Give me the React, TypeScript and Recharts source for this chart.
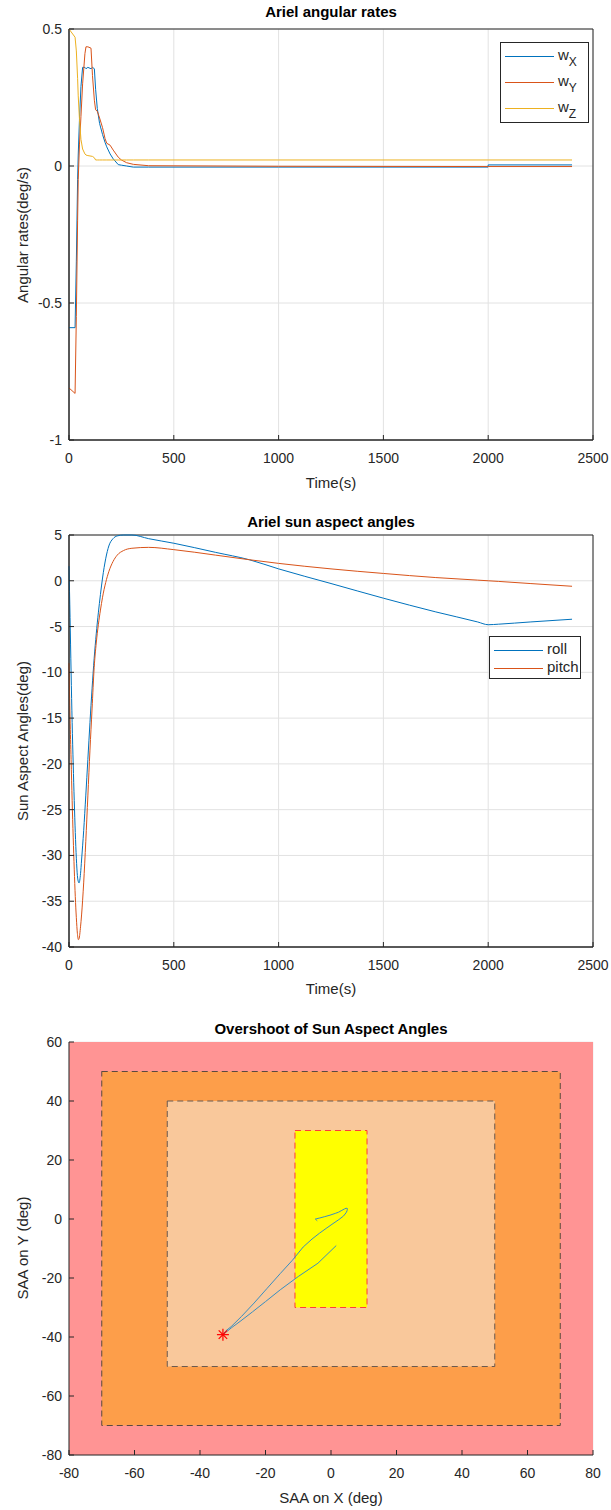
import React from "react";
import {
  LineChart, Line, ComposedChart, Scatter,
  XAxis, YAxis, CartesianGrid, ReferenceArea,
} from "recharts";

const FONT = '"Liberation Sans", Arial, Helvetica, sans-serif';
const AX = "#262626";
const GRID = "#e2e2e2";
const BLUE = "#0072BD";
const ORANGE = "#D95319";
const YELLOW = "#EDB120";

// ─── Angular rates ───────────────────────────────────────────────────────────

const RATE_T = [0, 29, 35, 41, 44, 50, 57, 65, 76, 81, 90, 105, 112, 121, 127, 135, 146, 160, 172, 180, 196, 211, 235, 250, 275, 307, 380, 1000, 1999, 2000, 2400];
const W_X = [-0.59, -0.59, -0.35, -0.05, 0.04, 0.17, 0.29, 0.36, 0.36, 0.355, 0.36, 0.355, 0.36, 0.355, 0.28, 0.21, 0.155, 0.115, 0.086, 0.07, 0.044, 0.026, 0.005, 0.003, 0.0, -0.004, -0.004, -0.004, -0.004, 0.004, 0.004];
const W_Y = [-0.81, -0.83, -0.55, -0.2, -0.05, 0.08, 0.18, 0.3, 0.41, 0.435, 0.435, 0.43, 0.33, 0.24, 0.205, 0.2, 0.175, 0.14, 0.1, 0.083, 0.076, 0.058, 0.032, 0.022, 0.012, 0.006, 0.001, -0.001, -0.002, -0.002, -0.002];
const W_Z = [0.5, 0.47, 0.42, 0.32, 0.256, 0.17, 0.097, 0.062, 0.044, 0.04, 0.038, 0.036, 0.035, 0.03, 0.022, 0.022, 0.022, 0.022, 0.022, 0.022, 0.022, 0.022, 0.022, 0.022, 0.022, 0.022, 0.022, 0.022, 0.022, 0.022, 0.022];
const TIME_TICKS = [0, 500, 1000, 1500, 2000, 2500];
const RATE_TICKS = [-1, -0.5, 0, 0.5];

// ─── Sun aspect angles ───────────────────────────────────────────────────────

const SAA_T = [0, 5, 10, 15, 20, 25, 30, 35, 40, 45, 48, 55, 60, 70, 80, 90, 100, 110, 120, 130, 140, 150, 160, 175, 190, 210, 230, 260, 300, 380, 500, 700, 860, 1000, 1250, 1500, 1750, 1950, 2000, 2050, 2200, 2400];
const ROLL = [1.6, -4, -10, -15.5, -20, -24, -27.5, -30.3, -32.2, -32.9, -33, -32, -30.5, -27.3, -23.5, -19.5, -15.5, -11.8, -8.5, -5.8, -3.5, -1.5, 0.3, 2.4, 3.8, 4.6, 4.9, 5.0, 5.0, 4.6, 4.1, 3.1, 2.3, 1.3, -0.3, -1.9, -3.4, -4.5, -4.8, -4.74, -4.5, -4.2];
const PITCH = [-9, -15, -19.5, -24, -28, -31.5, -34.5, -36.8, -38.5, -39.2, -39.1, -37.8, -36.5, -33, -28.5, -23.5, -18.5, -14.0, -9.5, -6.8, -4.8, -3.2, -1.8, -0.2, 1.0, 2.1, 2.8, 3.3, 3.55, 3.65, 3.4, 2.8, 2.3, 1.9, 1.3, 0.8, 0.35, 0.07, 0.0, -0.07, -0.3, -0.6];
const SAA_TICKS = [-40, -35, -30, -25, -20, -15, -10, -5, 0, 5];

// ─── Overshoot zones ─────────────────────────────────────────────────────────

const OUTER_ZONE = [-70, 70, -70, 50];
const MID_ZONE = [-50, 50, -50, 40];
const SAFE_ZONE = [-11, 11, -30, 30];
const WORST_POINT = [{ x: -33, y: -39.2 }];
const XY_TICKS_X = [-80, -60, -40, -20, 0, 20, 40, 60, 80];
const XY_TICKS_Y = [-80, -60, -40, -20, 0, 20, 40, 60];

const rateData = RATE_T.map((t, i) => ({ t, wx: W_X[i], wy: W_Y[i], wz: W_Z[i] }));
const saaData = SAA_T.map((t, i) => ({ t, roll: ROLL[i], pitch: PITCH[i] }));
const pathData = ROLL.map((r, i) => ({ x: r, y: PITCH[i] }));

const tickStyle = { fill: AX, fontSize: 14, fontFamily: FONT };

function Txt({ x, y, children, bold = false, rotate = false, size = 15 }: any) {
  return (
    <div
      style={{
        position: "absolute", left: x, top: y, whiteSpace: "nowrap",
        transform: `translate(-50%, -50%)${rotate ? " rotate(-90deg)" : ""}`,
        fontFamily: FONT, fontSize: size, fontWeight: bold ? 700 : 400, color: bold ? "#000" : AX,
        lineHeight: 1,
      }}
    >
      {children}
    </div>
  );
}

function LegendRow({ y, color, children }: any) {
  return (
    <div style={{ position: "absolute", left: 0, top: y, height: 1, width: "100%" }}>
      <div style={{ position: "absolute", left: 4, top: 0, width: 49, height: 0, borderTop: `1px solid ${color}` }} />
      <div style={{ position: "absolute", left: 57, top: -9, fontFamily: FONT, fontSize: 15, color: AX, lineHeight: 1, whiteSpace: "nowrap" }}>
        {children}
      </div>
    </div>
  );
}

function Star({ cx, cy }: any) {
  const r = 6;
  const arms = [0, 45, 90, 135].map((a) => {
    const rad = (a * Math.PI) / 180;
    const dx = Math.cos(rad) * r, dy = Math.sin(rad) * r;
    return <line key={a} x1={cx - dx} y1={cy - dy} x2={cx + dx} y2={cy + dy} stroke="#ff0000" strokeWidth={1.2} />;
  });
  return <g>{arms}</g>;
}

const sub = (s: string) => (
  <span>w<span style={{ fontSize: 12, position: "relative", top: 6 }}>{s}</span></span>
);

export default function App() {
  return (
    <div style={{ position: "absolute", left: 0, top: 0, width: 611, height: 1510, background: "#fff", fontFamily: FONT }}>
      {/* Angular rates */}
      <div style={{ position: "absolute", left: 0, top: 0 }}>
        <LineChart width={611} height={500} data={rateData} margin={{ top: 29, right: 18, bottom: 0, left: 0 }}>
          <CartesianGrid stroke={GRID} />
          <XAxis dataKey="t" type="number" domain={[0, 2500]} ticks={TIME_TICKS} height={60}
            tickSize={-5} tickMargin={18} tick={tickStyle} stroke={AX} />
          <YAxis type="number" domain={[-1, 0.5]} ticks={RATE_TICKS} width={69}
            tickSize={-5} tickMargin={12} tick={tickStyle} stroke={AX} />
          <ReferenceArea x1={0} x2={2500} y1={-1} y2={0.5} fill="none" stroke={AX} strokeWidth={1} />
          <Line type="linear" dataKey="wx" stroke={BLUE} strokeWidth={1} dot={false} isAnimationActive={false} />
          <Line type="linear" dataKey="wy" stroke={ORANGE} strokeWidth={1} dot={false} isAnimationActive={false} />
          <Line type="linear" dataKey="wz" stroke={YELLOW} strokeWidth={1} dot={false} isAnimationActive={false} />
        </LineChart>
      </div>
      <Txt x={331} y={11} bold>Ariel angular rates</Txt>
      <Txt x={331} y={482}>Time(s)</Txt>
      <Txt x={22} y={235} rotate>Angular rates(deg/s)</Txt>
      <div style={{ position: "absolute", left: 500, top: 42, width: 89, height: 81, border: `1px solid ${AX}`, boxSizing: "border-box", background: "#fff" }}>
        <LegendRow y={13} color={BLUE}>{sub("X")}</LegendRow>
        <LegendRow y={39} color={ORANGE}>{sub("Y")}</LegendRow>
        <LegendRow y={65} color={YELLOW}>{sub("Z")}</LegendRow>
      </div>

      {/* Sun aspect angles */}
      <div style={{ position: "absolute", left: 0, top: 500 }}>
        <LineChart width={611} height={510} data={saaData} margin={{ top: 35, right: 18, bottom: 0, left: 0 }}>
          <CartesianGrid stroke={GRID} />
          <XAxis dataKey="t" type="number" domain={[0, 2500]} ticks={TIME_TICKS} height={63}
            tickSize={-5} tickMargin={18} tick={tickStyle} stroke={AX} />
          <YAxis type="number" domain={[-40, 5]} ticks={SAA_TICKS} width={69}
            tickSize={-5} tickMargin={12} tick={tickStyle} stroke={AX} />
          <ReferenceArea x1={0} x2={2500} y1={-40} y2={5} fill="none" stroke={AX} strokeWidth={1} />
          <Line type="monotone" dataKey="roll" stroke={BLUE} strokeWidth={1} dot={false} isAnimationActive={false} />
          <Line type="monotone" dataKey="pitch" stroke={ORANGE} strokeWidth={1} dot={false} isAnimationActive={false} />
        </LineChart>
      </div>
      <Txt x={331} y={521} bold>Ariel sun aspect angles</Txt>
      <Txt x={331} y={988}>Time(s)</Txt>
      <Txt x={22} y={741} rotate>Sun Aspect Angles(deg)</Txt>
      <div style={{ position: "absolute", left: 489, top: 636, width: 92, height: 43, border: `1px solid ${AX}`, boxSizing: "border-box", background: "#fff" }}>
        <LegendRow y={13} color={BLUE}>roll</LegendRow>
        <LegendRow y={31} color={ORANGE}>pitch</LegendRow>
      </div>

      {/* Overshoot */}
      <div style={{ position: "absolute", left: 0, top: 1010 }}>
        <ComposedChart width={611} height={500} data={pathData} margin={{ top: 32, right: 18, bottom: 0, left: 0 }}>
          <XAxis dataKey="x" type="number" domain={[-80, 80]} ticks={XY_TICKS_X} height={55}
            tickSize={-5} tickMargin={18} tick={tickStyle} stroke={AX} />
          <YAxis type="number" domain={[-80, 60]} ticks={XY_TICKS_Y} width={69}
            tickSize={-5} tickMargin={12} tick={tickStyle} stroke={AX} />
          <ReferenceArea x1={-80} x2={80} y1={-80} y2={60} fill="#ff9494" fillOpacity={1} stroke="none" />
          <ReferenceArea x1={OUTER_ZONE[0]} x2={OUTER_ZONE[1]} y1={OUTER_ZONE[2]} y2={OUTER_ZONE[3]}
            fill="#fd9e4a" fillOpacity={1} stroke="#5a4a40" strokeDasharray="6 4" />
          <ReferenceArea x1={MID_ZONE[0]} x2={MID_ZONE[1]} y1={MID_ZONE[2]} y2={MID_ZONE[3]}
            fill="#f9c89b" fillOpacity={1} stroke="#6a5a50" strokeDasharray="6 4" />
          <ReferenceArea x1={SAFE_ZONE[0]} x2={SAFE_ZONE[1]} y1={SAFE_ZONE[2]} y2={SAFE_ZONE[3]}
            fill="#ffff00" fillOpacity={1} stroke="#ff3b3b" strokeDasharray="6 4" />
          <CartesianGrid stroke="rgba(0,0,0,0.07)" />
          <Line type="linear" dataKey="y" stroke="#3a8ec0" strokeWidth={1} dot={false} isAnimationActive={false} />
          <Scatter data={WORST_POINT} dataKey="y" shape={Star} isAnimationActive={false} />
        </ComposedChart>
      </div>
      <Txt x={331} y={1028} bold>Overshoot of Sun Aspect Angles</Txt>
      <Txt x={331} y={1497}>SAA on X (deg)</Txt>
      <Txt x={22} y={1248} rotate>SAA on Y (deg)</Txt>
    </div>
  );
}
